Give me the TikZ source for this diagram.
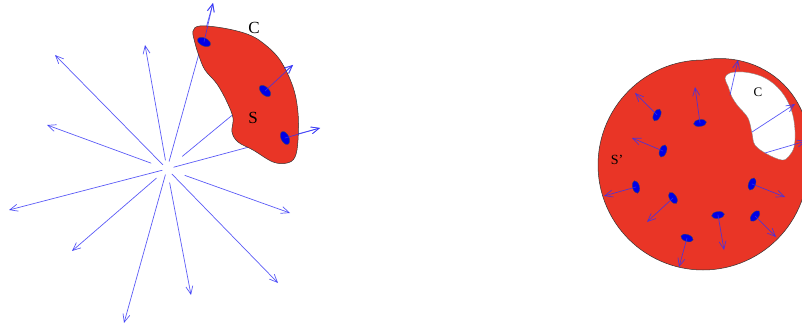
\documentclass[tikz,border=0pt]{standalone}
\usepackage{fontspec}
\setmainfont{Liberation Serif}
\usetikzlibrary{arrows.meta,shapes.geometric}
\definecolor{blobred}{RGB}{233,53,38}
\definecolor{raycol}{RGB}{50,50,245}
\definecolor{spotblue}{RGB}{0,0,230}
\tikzset{
  ray/.style={draw=raycol,draw opacity=0.8,line width=0.7pt,->},
  spot/.style={ellipse,fill=spotblue,draw=black!70,line width=0.3pt,inner sep=0pt,minimum width=14pt,minimum height=8pt},
  lab/.style={inner sep=0pt,font=\fontsize{17}{17}\selectfont},
  smalllab/.style={inner sep=0pt,font=\fontsize{13}{13}\selectfont}
}
\begin{document}
\begin{tikzpicture}[x=1pt,y=-1pt,line join=round,line cap=round,>={Straight Barb[length=8pt,width=7pt]}]
	\useasboundingbox (0,0) rectangle (802,331);
	\clip (0,0) rectangle (802,331);
	% left: point source and surface S
	\coordinate (O) at (167,169);
	\foreach \x/\y/\s in {55/55/6,145/45/9,213/3/8,293/65/20,320/128/7,47/125/17,9/210/5,72/251/14,124/323/6,191/295/14,278/283/7,290/213/19}
		\draw[ray,shorten <=\s pt] (O) -- (\x,\y);
	\draw[fill=blobred,draw=black!80,line width=0.5pt] plot[smooth cycle,tension=0.6] coordinates {(193,31) (200,26) (223,28) (247,34) (263,43) (280,60) (293,87) (298,113) (298,140) (295,157) (287,163) (273,162) (253,150) (238,142) (232,132) (233,118) (227,102) (217,84) (205,70) (199,56) (195,43)};
	\coordinate (t1) at (213,3);
	\coordinate (t2) at (293,65);
	\coordinate (t3) at (320,128);
	\node[spot,rotate=-25] (s1) at (204,42) {};
	\node[spot,rotate=-45] (s2) at (265,91) {};
	\node[spot,rotate=-65] (s3) at (285,138) {};
	\foreach \i in {1,2,3} \draw[ray] (s\i.center) -- (t\i);
	\node[lab] (C) at (254,28) {C};
	\node[lab] (S) at (253,118) {S};
	% right: closed surface S' with hole C
	\draw[fill=blobred,draw=black!80,line width=0.5pt] plot[domain=0:360,samples=121] ({703+(105+(\x>0)*(\x<90)*9*sin(2*\x))*cos(\x)},{165-(105+(\x>0)*(\x<90)*9*sin(2*\x))*sin(\x)}) -- cycle;
	\draw[fill=white,draw=black!50,line width=0.3pt] plot[smooth cycle,tension=0.6] coordinates {(725,78) (730,73) (743,72) (758,75) (770,81) (780,90) (788,102) (793,116) (795,132) (794,147) (789,156) (782,160) (767,154) (755,145) (752,133) (748,118) (738,106) (732,97) (728,86)};
	\foreach \a/\b/\c/\d [count=\i] in {730/95/738/60,752/132/795/104,765/153/806/141} {
		\coordinate (h\i) at (\a,\b);
		\coordinate (e\i) at (\c,\d);
		\draw[ray] (h\i) -- (e\i);
	}
	\foreach \x/\y/\r/\u/\v [count=\i] in {657/115/65/635/93,700/123/8/695/87,663/151/70/632/138,636/187/-75/604/196,673/198/-58/647/222,718/215/8/724/250,687/238/-18/679/267,752/184/70/785/197,755/216/50/776/237} {
		\node[spot,rotate=\r,minimum width=13pt,minimum height=7pt] (p\i) at (\x,\y) {};
		\coordinate (q\i) at (\u,\v);
		\draw[ray] (p\i.center) -- (q\i);
	}
	\node[smalllab] (C2) at (758,92) {C};
	\node[smalllab,font=\fontsize{14}{14}\selectfont] (S2) at (617,160) {S'};
\end{tikzpicture}
\end{document}
